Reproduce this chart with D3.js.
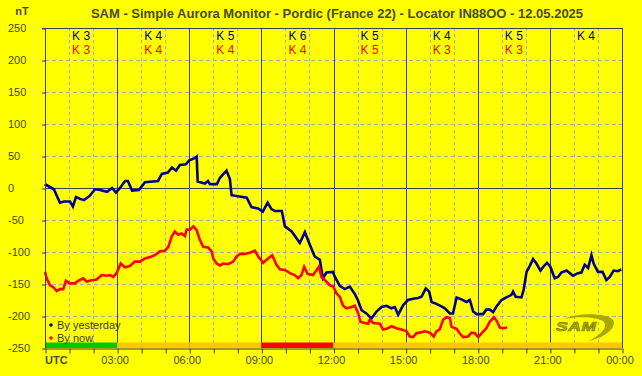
<!DOCTYPE html>
<html>
<head>
<meta charset="utf-8">
<script src="https://cdn.jsdelivr.net/npm/d3@7"></script>
<style>
  html, body { margin: 0; padding: 0; background: #ffff00; }
  svg { display: block; font-family: "Liberation Sans", Arial, sans-serif; }
</style>
</head>
<body>
<div id="chart"></div>
<script>
// hours (UTC) and nT values
const yesterdayHours = [0, 0.04, 0.37, 0.62, 0.79, 1.04, 1.16, 1.29, 1.46, 1.62, 1.87, 2.08, 2.29, 2.58, 2.79, 2.95, 3.12, 3.33, 3.45, 3.62, 3.91, 4.16, 4.7, 4.86, 5.11, 5.28, 5.45, 5.61, 5.86, 5.99, 6.24, 6.31, 6.35, 6.65, 6.78, 6.86, 7.15, 7.28, 7.55, 7.69, 7.76, 7.9, 8.39, 8.59, 8.86, 9.06, 9.26, 9.42, 9.56, 9.85, 9.98, 10.26, 10.6, 10.81, 11.02, 11.22, 11.43, 11.56, 11.71, 11.97, 12.06, 12.26, 12.47, 12.68, 12.89, 13.01, 13.17, 13.37, 13.58, 13.79, 14.0, 14.21, 14.41, 14.55, 14.69, 14.9, 15.1, 15.31, 15.52, 15.66, 15.84, 15.98, 16.08, 16.28, 16.49, 16.63, 16.84, 16.97, 17.12, 17.32, 17.53, 17.67, 17.81, 17.95, 18.22, 18.36, 18.5, 18.64, 18.78, 18.99, 19.19, 19.4, 19.47, 19.58, 19.82, 19.91, 20.03, 20.16, 20.3, 20.44, 20.61, 20.75, 20.88, 21.02, 21.2, 21.34, 21.48, 21.69, 21.83, 21.96, 22.17, 22.31, 22.45, 22.59, 22.73, 22.82, 23.0, 23.19, 23.35, 23.49, 23.65, 23.83, 23.97];
const yesterdayValues = [3, 5, -2, -23, -21, -21, -29, -14, -17, -19, -12, -2, -3, -6, 0, -7, 0, 11, 11, -4, -3, 9, 11, 22, 24, 32, 27, 36, 37, 43, 47, 49, 10, 7, 11, 6, 6, 16, 27, 14, -11, -12, -15, -30, -32, -37, -23, -33, -36, -36, -60, -68, -86, -69, -89, -107, -112, -141, -132, -131, -139, -153, -158, -154, -166, -175, -191, -196, -204, -193, -186, -184, -188, -186, -198, -183, -175, -173, -172, -170, -157, -162, -178, -181, -185, -188, -196, -196, -171, -174, -178, -175, -193, -197, -197, -190, -190, -194, -185, -175, -171, -167, -162, -170, -171, -159, -131, -122, -111, -118, -129, -122, -117, -123, -141, -139, -132, -129, -133, -137, -133, -132, -120, -125, -105, -118, -131, -131, -144, -139, -129, -130, -127];

const nowHours = [0, 0.07, 0.21, 0.35, 0.49, 0.62, 0.76, 0.87, 1.04, 1.25, 1.38, 1.59, 1.73, 1.94, 2.15, 2.36, 2.57, 2.7, 2.84, 2.98, 3.15, 3.33, 3.53, 3.74, 3.95, 4.16, 4.37, 4.57, 4.78, 4.99, 5.13, 5.27, 5.4, 5.54, 5.68, 5.82, 5.89, 6.03, 6.17, 6.31, 6.44, 6.58, 6.79, 6.93, 7.0, 7.14, 7.28, 7.41, 7.62, 7.83, 7.97, 8.11, 8.31, 8.52, 8.73, 8.87, 9.08, 9.22, 9.45, 9.63, 9.77, 9.98, 10.19, 10.39, 10.53, 10.67, 10.78, 10.92, 11.15, 11.3, 11.39, 11.5, 11.64, 11.85, 11.99, 12.13, 12.26, 12.4, 12.54, 12.75, 12.89, 13.03, 13.12, 13.3, 13.44, 13.51, 13.65, 13.93, 14.06, 14.21, 14.41, 14.62, 14.83, 15.04, 15.17, 15.31, 15.45, 15.59, 15.8, 16.01, 16.17, 16.28, 16.42, 16.56, 16.7, 16.84, 16.91, 17.12, 17.25, 17.39, 17.6, 17.74, 17.88, 18.02, 18.16, 18.36, 18.5, 18.67, 18.78, 18.92, 19.05, 19.22];
const nowValues = [-131, -141, -152, -155, -161, -158, -158, -145, -149, -149, -145, -141, -146, -144, -143, -136, -137, -136, -139, -133, -118, -124, -122, -115, -115, -110, -108, -105, -99, -98, -92, -76, -68, -73, -71, -75, -65, -65, -60, -66, -81, -92, -93, -99, -110, -118, -121, -118, -119, -115, -107, -103, -103, -101, -98, -107, -117, -112, -105, -120, -127, -128, -133, -136, -141, -136, -123, -134, -136, -128, -123, -139, -144, -152, -154, -165, -170, -184, -188, -186, -184, -196, -209, -211, -212, -206, -211, -212, -221, -220, -216, -219, -221, -224, -232, -233, -227, -226, -224, -226, -232, -224, -221, -206, -202, -203, -217, -220, -227, -233, -232, -226, -227, -233, -227, -219, -209, -202, -207, -218, -219, -218];

// K index per 3 hour block
const kYesterday = [3, 4, 5, 6, 5, 4, 5, 4];
const kNow = [3, 4, 4, 4, 5, 3, 3];
// status per 3 hour block: 0 quiet, 1 active, 2 storm
const statusLevel = [0, 1, 1, 2, 1, 1, 1, 1];

const yTicks = [250, 200, 150, 100, 50, 0, -50, -100, -150, -200, -250];
const hourTicks = d3.range(0, 25);
const hourLabels = ["UTC", "03:00", "06:00", "09:00", "12:00", "15:00", "18:00", "21:00", "00:00"];

const title = "SAM - Simple Aurora Monitor - Pordic (France 22) - Locator IN88OO - 12.05.2025";

const W = 642, H = 376;
const margin = { top: 28, right: 20, bottom: 28, left: 45 };

const solidCol = "#3c3c5c";
const dashCol = "#a6a6c8";
const textCol = "#4a4a2e";
const blue = "#000090";
const red = "#ff0000";
const statusColor = ["#00c800", "#ffc800", "#ff0000"];

const x = d3.scaleLinear([0, 24], [margin.left, W - margin.right]);
const y = d3.scaleLinear([-250, 250], [H - margin.bottom, margin.top]);

const svg = d3.select("#chart")
  .append("svg")
  .attr("width", W)
  .attr("height", H);

svg.append("rect").attr("width", W).attr("height", H).attr("fill", "#ffff00");

// title + unit
svg.append("text")
  .attr("x", 337)
  .attr("y", 18)
  .attr("text-anchor", "middle")
  .attr("font-size", 13)
  .attr("font-weight", "bold")
  .attr("fill", textCol)
  .text(title);

svg.append("text")
  .attr("x", 22)
  .attr("y", 15)
  .attr("text-anchor", "middle")
  .attr("font-size", 11)
  .attr("font-weight", "bold")
  .attr("fill", textCol)
  .text("nT");

const grid = svg.append("g");

// horizontal grid
grid.selectAll("line.h")
  .data(yTicks.filter((d) => d !== 250 && d !== -250 && d !== 0))
  .join("line")
  .attr("x1", x(0))
  .attr("x2", x(24))
  .attr("y1", (d) => y(d) + 0.5)
  .attr("y2", (d) => y(d) + 0.5)
  .attr("stroke", dashCol)
  .attr("stroke-dasharray", "4,3");

// vertical grid, dashed each hour, solid each 3 hours
grid.selectAll("line.v")
  .data(hourTicks.filter((d) => d % 3 !== 0))
  .join("line")
  .attr("x1", (d) => Math.round(x(d)) + 0.5)
  .attr("x2", (d) => Math.round(x(d)) + 0.5)
  .attr("y1", y(250))
  .attr("y2", y(-250))
  .attr("stroke", dashCol)
  .attr("stroke-dasharray", "3,3");

// status bar along the bottom
svg.append("g")
  .selectAll("rect")
  .data(statusLevel)
  .join("rect")
  .attr("x", (d, i) => x(i * 3))
  .attr("width", x(3) - x(0))
  .attr("y", y(-250) - 5.5)
  .attr("height", 5.5)
  .attr("fill", (d) => statusColor[d]);

grid.selectAll("line.s")
  .data(hourTicks.filter((d) => d % 3 === 0))
  .join("line")
  .attr("x1", (d) => Math.round(x(d)) + 0.5)
  .attr("x2", (d) => Math.round(x(d)) + 0.5)
  .attr("y1", y(250))
  .attr("y2", y(-250))
  .attr("stroke", solidCol);

// zero line and top border
svg.append("line")
  .attr("x1", x(0)).attr("x2", x(24))
  .attr("y1", y(0) + 0.5).attr("y2", y(0) + 0.5)
  .attr("stroke", solidCol);
svg.append("line")
  .attr("x1", x(0) - 3).attr("x2", x(24))
  .attr("y1", y(250) + 0.5).attr("y2", y(250) + 0.5)
  .attr("stroke", solidCol);

// SAM logo
const logo = svg.append("g").attr("transform", "translate(556,331)");
logo.append("path")
  .attr("d", "M8,-12 C22,-19 52,-18 57,-11 C61,-5 52,6 32,10 C45,4 52,-4 48,-9 C42,-14 24,-15 8,-12 Z")
  .attr("fill", "#a8a800");
logo.append("text")
  .attr("transform", "scale(1.45,1)")
  .attr("x", 0)
  .attr("y", 0)
  .attr("font-size", 12)
  .attr("font-weight", "bold")
  .attr("font-style", "italic")
  .attr("letter-spacing", 0.5)
  .attr("fill", "#b8b800")
  .attr("stroke", "#727200")
  .attr("stroke-width", 0.6)
  .text("SAM");

// data lines
const line = d3.line()
  .x((d) => x(d[0]))
  .y((d) => y(d[1]));

svg.append("path")
  .datum(d3.zip(yesterdayHours, yesterdayValues))
  .attr("fill", "none")
  .attr("stroke", blue)
  .attr("stroke-width", 2.6)
  .attr("d", line);

svg.append("path")
  .datum(d3.zip(nowHours, nowValues))
  .attr("fill", "none")
  .attr("stroke", red)
  .attr("stroke-width", 2.6)
  .attr("d", line);

// axes
const yAxis = svg.append("g")
  .attr("transform", `translate(${x(0)},0.5)`)
  .call(d3.axisLeft(y).tickValues(yTicks).tickSize(3).tickFormat(""));
yAxis.select(".domain").attr("stroke", solidCol).attr("d", `M0.5,${y(250)}V${y(-250)}`);
yAxis.selectAll("line").attr("stroke", solidCol);

svg.append("g")
  .selectAll("text")
  .data(yTicks)
  .join("text")
  .attr("x", 8)
  .attr("y", (d) => y(d) + 4)
  .attr("font-size", 11)
  .attr("fill", textCol)
  .text((d) => d);

const xAxis = svg.append("g")
  .attr("transform", `translate(0,${y(-250) + 0.5})`)
  .call(d3.axisBottom(x).tickValues(hourTicks).tickSize(5).tickFormat(""));
xAxis.select(".domain").attr("stroke", solidCol).attr("d", `M${x(0)},0.5H${x(24) + 0.5}`);
xAxis.selectAll(".tick line").attr("stroke", solidCol).attr("transform", "translate(0.5,0)");

svg.append("g")
  .selectAll("text")
  .data(hourLabels)
  .join("text")
  .attr("x", (d, i) => (i === 0 ? x(0) : x(i * 3) - 2))
  .attr("y", 364)
  .attr("text-anchor", (d, i) => (i === 0 ? "start" : "middle"))
  .attr("font-size", 11)
  .attr("font-weight", (d, i) => (i === 0 ? "bold" : "normal"))
  .attr("fill", textCol)
  .text((d) => d);

// K index labels
svg.append("g")
  .selectAll("text")
  .data(kYesterday)
  .join("text")
  .attr("x", (d, i) => x(i * 3 + 1.5))
  .attr("y", 40)
  .attr("text-anchor", "middle")
  .attr("font-size", 12)
  .attr("fill", blue)
  .text((d) => "K " + d);

svg.append("g")
  .selectAll("text")
  .data(kNow)
  .join("text")
  .attr("x", (d, i) => x(i * 3 + 1.5))
  .attr("y", 54)
  .attr("text-anchor", "middle")
  .attr("font-size", 12)
  .attr("fill", red)
  .text((d) => "K " + d);

// legend
const legend = svg.append("g").attr("transform", "translate(51,325)");
[["By yesterday", blue], ["By now", red]].forEach(([label, c], i) => {
  legend.append("circle")
    .attr("cx", 0)
    .attr("cy", i * 13)
    .attr("r", 1.8)
    .attr("fill", c);
  legend.append("text")
    .attr("x", 6)
    .attr("y", i * 13 + 4)
    .attr("font-size", 11)
    .attr("fill", "#3a3a2a")
    .text(label);
});
</script>
</body>
</html>
